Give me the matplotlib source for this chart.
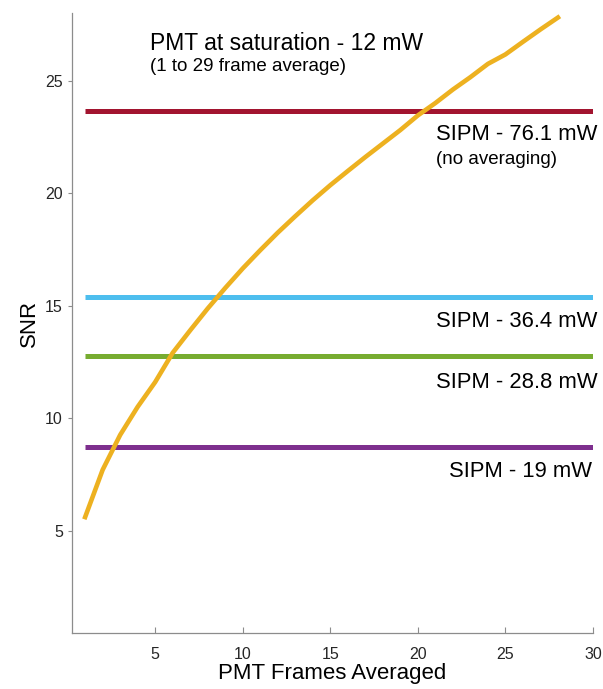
import matplotlib.pyplot as plt
import numpy as np

plt.rcParams['font.family'] = ['Liberation Sans', 'DejaVu Sans']

# PMT curve
frames = np.arange(1, 29)
pmt_snr = [5.6, 7.7, 9.25, 10.5, 11.6, 12.9, 13.9, 14.87, 15.78, 16.65,
           17.46, 18.24, 18.97, 19.68, 20.35, 20.98, 21.6, 22.2, 22.8, 23.45,
           24.0, 24.6, 25.15, 25.74, 26.16, 26.72, 27.27, 27.8]

# SIPM levels (no averaging)
sipm_labels = ['SIPM - 76.1 mW', 'SIPM - 36.4 mW', 'SIPM - 28.8 mW', 'SIPM - 19 mW']
sipm_snr = [23.65, 15.36, 12.76, 8.7]
sipm_colors = ['#A2142F', '#4DBEEE', '#77AC30', '#7E2F8E']

fig = plt.figure(figsize=(6.03, 6.89), dpi=100)
ax = fig.add_axes([0.1194, 0.0813, 0.864, 0.8998])

for val, col in zip(sipm_snr, sipm_colors):
    ax.plot([1, 30], [val, val], color=col, lw=3.6, solid_capstyle='butt')

ax.plot(frames, pmt_snr, color='#EDB120', lw=3.3)

ax.set_xlim(0.25, 30)
ax.set_ylim(0.45, 28)
ax.set_xticks([5, 10, 15, 20, 25, 30])
ax.set_yticks([5, 10, 15, 20, 25])

for s in ['top', 'right']:
    ax.spines[s].set_visible(False)
for s in ['left', 'bottom']:
    ax.spines[s].set_color('#8c8c8c')
    ax.spines[s].set_linewidth(0.9)
ax.tick_params(axis='x', direction='in', length=4, color='#8c8c8c',
               labelsize=11.5, labelcolor='#262626', pad=10)
ax.tick_params(axis='y', direction='out', length=3, color='#8c8c8c',
               labelsize=11.5, labelcolor='#262626', pad=3.6)

# pulled up so the descenders stay inside the figure
ax.set_xlabel('PMT Frames Averaged', fontsize=16, labelpad=0.5)
ax.set_ylabel('SNR', fontsize=16, labelpad=4)

# annotations
ax.text(4.72, 26.36, 'PMT at saturation - 12 mW', fontsize=16.5, va='baseline')
ax.text(4.72, 25.43, '(1 to 29 frame average)', fontsize=13.5, va='baseline')
ax.text(30.25, 22.35, sipm_labels[0], fontsize=15.8, ha='right', va='baseline')
ax.text(21.05, 21.27, '(no averaging)', fontsize=13.5, ha='left', va='baseline')
ax.text(30.25, 14.04, sipm_labels[1], fontsize=15.8, ha='right', va='baseline')
ax.text(30.25, 11.34, sipm_labels[2], fontsize=15.8, ha='right', va='baseline')
ax.text(29.95, 7.39, sipm_labels[3], fontsize=15.8, ha='right', va='baseline')

fig.savefig('out.png', dpi=100)
